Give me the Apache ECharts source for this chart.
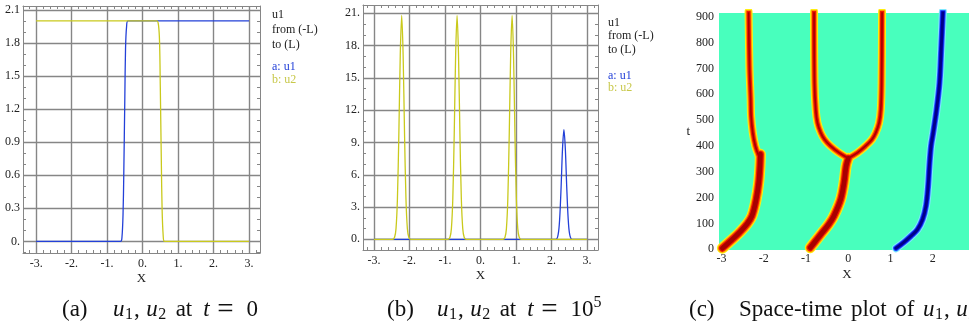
<!DOCTYPE html>
<html>
<head>
<meta charset="utf-8">
<title>u1, u2 profiles and space-time plot</title>
<script src="https://cdn.jsdelivr.net/npm/echarts@6/dist/echarts.min.js"></script>
<style>
    html, body {margin: 0; padding: 0; background: #fff;}
    #chart {width: 969px; height: 325px;}
</style>
</head>
<body>
<div id="chart"></div>
<script>
// ---- (a) t = 0 ----
const u1_t0 = [[-3, 0], [-0.62, 0], [-0.58, 0.04], [-0.55, 0.25], [-0.53, 0.6], [-0.5, 1.3], [-0.48, 1.75], [-0.45, 1.95], [-0.41, 2], [3, 2]];
const u2_t0 = [[-3, 2], [0.4, 2], [0.45, 1.96], [0.48, 1.8], [0.5, 1.4], [0.53, 0.7], [0.55, 0.3], [0.58, 0.06], [0.62, 0], [3, 0]];

// ---- (b) t = 10^5 ----
const u1_t5 = [[-3, 0], [2.12, 0], [2.19, 0.5], [2.23, 1.9], [2.27, 4.8], [2.31, 8.4], [2.35, 10.2], [2.39, 8.4], [2.43, 4.8], [2.47, 1.9], [2.51, 0.5], [2.58, 0], [3, 0]];
const u2_t5 = [[-3, 0],
    [-2.48, 0], [-2.42, 0.2], [-2.38, 1.0], [-2.34, 3.8], [-2.30, 9.8], [-2.26, 17.2], [-2.22, 20.8], [-2.18, 17.2], [-2.14, 9.8], [-2.10, 3.8], [-2.06, 1.0], [-2.02, 0.2], [-1.96, 0],
    [-0.92, 0], [-0.86, 0.2], [-0.82, 1.0], [-0.78, 3.8], [-0.74, 9.8], [-0.70, 17.2], [-0.66, 20.8], [-0.62, 17.2], [-0.58, 9.8], [-0.54, 3.8], [-0.50, 1.0], [-0.46, 0.2], [-0.40, 0],
    [0.63, 0], [0.69, 0.2], [0.73, 1.0], [0.77, 3.8], [0.81, 9.8], [0.85, 17.2], [0.89, 20.8], [0.93, 17.2], [0.97, 9.8], [1.01, 3.8], [1.05, 1.0], [1.09, 0.2], [1.15, 0],
    [3, 0]];

// ---- (c) space-time tracks [x, t] ----
const trackLeftLow = [[-2.98, 4], [-2.74, 39], [-2.58, 64], [-2.40, 97], [-2.28, 129], [-2.18, 193], [-2.12, 258], [-2.09, 322], [-2.08, 368]];
const trackLeftHigh = [[-2.12, 362], [-2.2, 400], [-2.26, 451], [-2.30, 516], [-2.31, 580], [-2.34, 709], [-2.36, 920]];
const trackTrunk = [[-0.90, 6], [-0.74, 39], [-0.62, 64], [-0.46, 97], [-0.34, 129], [-0.18, 193], [-0.10, 258], [-0.05, 322], [0, 352]];
const trackBranchL = [[0, 352], [-0.22, 374], [-0.42, 400], [-0.56, 425], [-0.65, 451], [-0.73, 490], [-0.77, 541], [-0.80, 645], [-0.81, 920]];
const trackBranchR = [[0, 352], [0.22, 374], [0.41, 400], [0.56, 425], [0.65, 451], [0.73, 490], [0.77, 541], [0.79, 645], [0.80, 920]];
const trackBlue = [[1.13, 4], [1.31, 26], [1.49, 52], [1.64, 77], [1.76, 116], [1.84, 168], [1.89, 245], [1.92, 322], [1.96, 400], [2.01, 451], [2.09, 541], [2.16, 645], [2.20, 774], [2.24, 920]];

// ---- tick labels ----
const xTickVals = [-3, -2, -1, 0, 1, 2, 3];
const xTickText = ['-3.', '-2.', '-1.', '0.', '1.', '2.', '3.'];
const yTickValsA = [0, 0.3, 0.6, 0.9, 1.2, 1.5, 1.8, 2.1];
const yTickTextA = ['0.', '0.3', '0.6', '0.9', '1.2', '1.5', '1.8', '2.1'];
const yTickValsB = [0, 3, 6, 9, 12, 15, 18, 21];
const yTickTextB = ['0.', '3.', '6.', '9.', '12.', '15.', '18.', '21.'];
const xTickValsC = [-3, -2, -1, 0, 1, 2];
const tTickValsC = [0, 100, 200, 300, 400, 500, 600, 700, 800, 900];

const GRAY = '#868686';
const BLUE = '#2340d8';
const YELLOW = '#c9c91c';
const SERIF = '"Liberation Serif", "DejaVu Serif", serif';

const steps = (a, b, d) => {
    const out = [];
    for (let v = a; v <= b + 1e-9; v += d) out.push(Math.round(v * 1000) / 1000);
    return out;
};
const pick = (vals, text) => v => {
    const i = vals.findIndex(u => Math.abs(u - v) < 1e-6);
    return i < 0 ? '' : text[i];
};
const nameStyle = {color: '#222', fontFamily: SERIF, fontSize: 13};

// maple style boxed axes: bottom/left carry labels, top/right only ticks, third pair draws the grid
function frameAxes(gi, xr, yr, xVals, xText, xMinor, yVals, yText, yMinor, nameGap) {
    const line = {show: true, onZero: false, lineStyle: {color: GRAY, width: 1}};
    const tick = vals => ({show: true, inside: true, length: 3, customValues: vals, lineStyle: {color: GRAY}});
    const grid = {color: GRAY, width: 1.4};
    const lbl = {color: '#222', fontFamily: SERIF, fontSize: 12};
    const base = {gridIndex: gi, type: 'value'};
    const xs = {min: xr[0], max: xr[1]};
    const ys = {min: yr[0], max: yr[1]};
    return {
        xAxis: [
            {...base, ...xs, position: 'bottom', axisLine: line, axisTick: tick(xMinor),
                axisLabel: {...lbl, customValues: xVals, formatter: pick(xVals, xText), margin: 5},
                splitLine: {show: false},
                name: 'X', nameLocation: 'middle', nameGap: nameGap, nameMoveOverlap: false,
                nameTextStyle: nameStyle},
            {...base, ...xs, position: 'top', axisLine: line, axisTick: tick(xMinor),
                axisLabel: {show: false}, splitLine: {show: false}},
            {...base, ...xs, position: 'top', axisLine: {show: false},
                axisTick: {show: false, customValues: xVals}, axisLabel: {show: false},
                splitLine: {show: true, customValues: xVals, lineStyle: grid}}
        ],
        yAxis: [
            {...base, ...ys, position: 'left', axisLine: line, axisTick: tick(yMinor),
                axisLabel: {...lbl, customValues: yVals, formatter: pick(yVals, yText), margin: 3},
                splitLine: {show: false}},
            {...base, ...ys, position: 'right', axisLine: line, axisTick: tick(yMinor),
                axisLabel: {show: false}, splitLine: {show: false}},
            {...base, ...ys, position: 'right', axisLine: {show: false},
                axisTick: {show: false, customValues: yVals}, axisLabel: {show: false},
                splitLine: {show: true, customValues: yVals, lineStyle: grid}}
        ]
    };
}

const axA = frameAxes(0, [-3.37, 3.31], [-0.105, 2.135], xTickVals, xTickText, steps(-3.2, 3.2, 0.2),
    yTickValsA, yTickTextA, steps(-0.1, 2.1, 0.1), 19);
const axB = frameAxes(1, [-3.31, 3.31], [-0.99, 21.77], xTickVals, xTickText, steps(-3.2, 3.2, 0.2),
    yTickValsB, yTickTextB, steps(0, 21, 1), 19);

const axC = {
    xAxis: {gridIndex: 2, type: 'value', min: -3.06, max: 3.0,
        axisLine: {show: false}, axisTick: {show: false}, splitLine: {show: false},
        axisLabel: {customValues: xTickValsC, color: '#222', fontFamily: SERIF, fontSize: 12, margin: 3},
        name: 'X', nameLocation: 'middle', nameGap: 18.5, nameMoveOverlap: false, nameTextStyle: nameStyle},
    yAxis: {gridIndex: 2, type: 'value', min: -3, max: 915,
        axisLine: {show: false}, axisTick: {show: false}, splitLine: {show: false},
        axisLabel: {customValues: tTickValsC, color: '#222', fontFamily: SERIF, fontSize: 12, margin: 5},
        name: 't', nameLocation: 'middle', nameGap: 29, nameRotate: 0, nameMoveOverlap: false,
        nameTextStyle: nameStyle}
};

const profile = (data, color, xi, yi) => ({
    type: 'line', data, xAxisIndex: xi, yAxisIndex: yi, showSymbol: false, smooth: 0.3,
    silent: true, lineStyle: {color, width: 1.3}
});

// heat-map look: each track drawn as stacked strokes, widest first
const redLayers = [['#ffee10', 0], ['#ff9a00', 2], ['#f01800', 4], ['#a80000', 6.3]];
const blueLayers = [['#7fe8ff', 0], ['#2f6bff', 2], ['#0514e6', 3.6], ['#000088', 5.2]];
const redTracks = [[trackLeftLow, 11], [trackLeftHigh, 8], [trackTrunk, 11], [trackBranchL, 8], [trackBranchR, 8]];
const blueTracks = [[trackBlue, 8]];

const heatSeries = [];
[[redLayers, redTracks], [blueLayers, blueTracks]].forEach(([layers, tracks]) => {
    layers.forEach(([color, shrink], li) => {
        tracks.forEach(([data, w]) => {
            heatSeries.push({
                type: 'line', data, xAxisIndex: 6, yAxisIndex: 6, showSymbol: false, smooth: 0.35,
                silent: true, z: 3 + li,
                lineStyle: {color, width: Math.max(w - shrink, 1), cap: 'round', join: 'round'}
            });
        });
    });
});

const legendText = (x, y, lines) => lines.map(([t, dy, c]) => ({
    type: 'text', x, y: y + dy,
    style: {text: t, fill: c, fontFamily: SERIF, fontSize: 12, verticalAlign: 'middle'}
}));

// caption text, paddings stand in for TeX math spacing
const ink = '#111';
const capRich = {
    u: {fontFamily: SERIF, fontSize: 23, fontStyle: 'italic', fill: ink, padding: [0, 0.5, 0, 0]},
    s: {fontFamily: SERIF, fontSize: 16, fill: ink, padding: [10, 1, 0, 0]},
    c: {fontFamily: SERIF, fontSize: 23, fill: ink, padding: [0, 6.5, 0, 0]},
    w: {fontFamily: SERIF, fontSize: 23, fill: ink, padding: [0, 11, 0, 8.4]},
    t: {fontFamily: SERIF, fontSize: 23, fontStyle: 'italic', fill: ink, padding: [0, 7.5, 0, 0]},
    e: {fontFamily: SERIF, fontSize: 29, fill: ink, padding: [0, 13, 0, 0]},
    r: {fontFamily: SERIF, fontSize: 23, fill: ink},
    g: {fontFamily: SERIF, fontSize: 23, fill: ink, padding: [0, 8.5, 0, 0]},
    p: {fontFamily: SERIF, fontSize: 16, fill: ink, padding: [0, 0, 14, 0]}
};
const caption = (x, t) => ({
    type: 'text', x, y: 310,
    style: {text: t, rich: capRich, fontFamily: SERIF, fontSize: 23, fill: ink, verticalAlign: 'middle'}
});

const chart = echarts.init(document.getElementById('chart'));
chart.setOption({
    animation: false,
    backgroundColor: '#fff',
    grid: [
        {left: 23, top: 6, width: 237, height: 247, outerBoundsMode: 'none'},
        {left: 363, top: 5, width: 235, height: 245, outerBoundsMode: 'none'},
        {left: 719, top: 13, width: 256, height: 237, outerBoundsMode: 'none',
            show: true, backgroundColor: '#48ffbd', borderWidth: 0}
    ],
    xAxis: [...axA.xAxis, ...axB.xAxis, axC.xAxis],
    yAxis: [...axA.yAxis, ...axB.yAxis, axC.yAxis],
    series: [
        profile(u1_t0, BLUE, 0, 0),
        profile(u2_t0, YELLOW, 0, 0),
        profile(u1_t5, BLUE, 3, 3),
        profile(u2_t5, YELLOW, 3, 3),
        ...heatSeries
    ],
    graphic: [
        ...legendText(272, 15, [['u1', 0, '#222'], ['from (-L)', 15, '#222'], ['to (L)', 30, '#222'],
            ['a: u1', 52, BLUE], ['b: u2', 65, '#c8c84a']]),
        ...legendText(608, 23, [['u1', 0, '#222'], ['from (-L)', 13, '#222'], ['to (L)', 27, '#222'],
            ['a: u1', 53, BLUE], ['b: u2', 65, '#c8c84a']]),
        caption(62, '(a)'),
        caption(113, '{u|u}{s|1}{c|,}{u|u}{s|2}{w|at}{t|t}{e|=}{r|0}'),
        caption(387, '(b)'),
        caption(437, '{u|u}{s|1}{c|,}{u|u}{s|2}{w|at}{t|t}{e|=}{r|10}{p|5}'),
        caption(689, '(c)'),
        caption(739, '{g|Space-time}{g|plot}{g|of}{u|u}{s|1}{c|,}{u|u}{s|2}')
    ]
});
</script>
</body>
</html>
